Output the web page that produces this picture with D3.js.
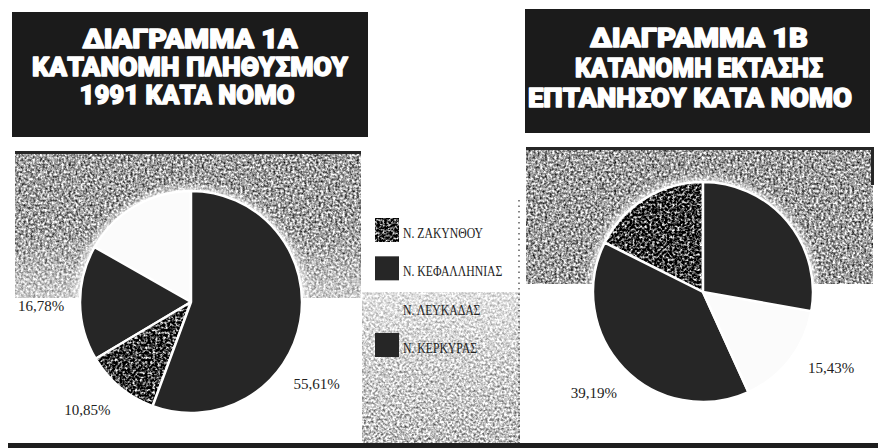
<!DOCTYPE html>
<html>
<head>
<meta charset="utf-8">
<script src="https://cdn.jsdelivr.net/npm/d3@7"></script>
<style>
  body { margin: 0; background: #fff; }
  svg { display: block; }
</style>
</head>
<body>
<div id="chart"></div>
<script>
// Data: legend order of the prefectures
const nomoi = ["Ν. ΖΑΚΥΝΘΟΥ", "Ν. ΚΕΦΑΛΛΗΝΙΑΣ", "Ν. ΛΕΥΚΑΔΑΣ", "Ν. ΚΕΡΚΥΡΑΣ"];
// percent of population 1991 (diagram 1A)
const plithysmos = [16.76, 16.78, 10.85, 55.61];
// percent of area (diagram 1B)
const ektasi = [17.60, 39.19, 15.43, 27.78];
// which slices carry a printed percentage
const shownA = [false, true, true, true];
const shownB = [false, true, true, false];
const titleA = ["ΔΙΑΓΡΑΜΜΑ 1Α", "ΚΑΤΑΝΟΜΗ ΠΛΗΘΥΣΜΟΥ", "1991 ΚΑΤΑ ΝΟΜΟ"];
const titleB = ["ΔΙΑΓΡΑΜΜΑ 1Β", "ΚΑΤΑΝΟΜΗ ΕΚΤΑΣΗΣ", "ΕΠΤΑΝΗΣΟΥ ΚΑΤΑ ΝΟΜΟ"];

// fills as printed (1A has two patterns swapped in print)
const legendFill = ["speck", "dark", "white", "dark"];
const fillsA = ["white", "dark", "speck", "dark"];
const fillsB = ["speck", "dark", "white", "dark"];
// small angular nudges (deg) of the printed labels
const labelShiftA = [0, -1, 4, 23];
const labelShiftB = [0, 1, -7, 0];

const W = 878, H = 448;
const DARK = "#262626";

const svg = d3.select("#chart")
  .append("svg")
  .attr("width", W)
  .attr("height", H);

const defs = svg.append("defs");

// grainy newsprint texture via turbulence
function grainFilter(id, freq, k, o, seed) {
  const f = defs.append("filter")
    .attr("id", id)
    .attr("x", 0).attr("y", 0).attr("width", 1).attr("height", 1)
    .attr("color-interpolation-filters", "sRGB");
  f.append("feTurbulence")
    .attr("type", "fractalNoise")
    .attr("baseFrequency", freq)
    .attr("numOctaves", 2)
    .attr("seed", seed);
  f.append("feColorMatrix")
    .attr("type", "matrix")
    .attr("values", `${k} 0 0 0 ${o}  ${k} 0 0 0 ${o}  ${k} 0 0 0 ${o}  0 0 0 0 1`);
  f.append("feGaussianBlur").attr("stdDeviation", 0.5);
}
grainFilter("grain", 0.42, 1.6, -0.18, 3);
grainFilter("grainLight", 0.42, 1.4, 0.05, 7);
grainFilter("speckF", 0.4, 2.6, -1.08, 11);

const halo = defs.append("filter").attr("id", "halo")
  .attr("x", -0.2).attr("y", -0.2).attr("width", 1.4).attr("height", 1.4);
halo.append("feGaussianBlur").attr("stdDeviation", 4);

const pat = defs.append("pattern")
  .attr("id", "speck")
  .attr("patternUnits", "userSpaceOnUse")
  .attr("width", W).attr("height", H);
pat.append("rect").attr("width", W).attr("height", H).attr("filter", "url(#speckF)");

function fade(id, stops) {
  const g = defs.append("linearGradient").attr("id", id)
    .attr("x1", 0).attr("y1", 0).attr("x2", 0).attr("y2", 1);
  stops.forEach(s => g.append("stop").attr("offset", s[0])
    .attr("stop-color", "#fff").attr("stop-opacity", s[1]));
}
fade("fadeDown", [[0, 0], [0.55, 0.05], [1, 0.5]]);
fade("fadeUp", [[0, 0.55], [1, 0.0]]);

const fillOf = t => t === "speck" ? "url(#speck)" : (t === "white" ? "#fbfbfb" : DARK);

// ---- backgrounds ----
// left panel: textured top
svg.append("rect").attr("x", 15).attr("y", 152).attr("width", 346).attr("height", 146)
  .attr("filter", "url(#grain)");
svg.append("rect").attr("x", 15).attr("y", 152).attr("width", 346).attr("height", 146)
  .attr("fill", "url(#fadeDown)");
svg.append("rect").attr("x", 15).attr("y", 151).attr("width", 346).attr("height", 3).attr("fill", DARK);

// middle strip: textured bottom
svg.append("rect").attr("x", 362).attr("y", 292).attr("width", 158).attr("height", 152)
  .attr("filter", "url(#grainLight)");
svg.append("rect").attr("x", 362).attr("y", 292).attr("width", 158).attr("height", 152)
  .attr("fill", "url(#fadeUp)");

// right panel: textured top
svg.append("rect").attr("x", 526).attr("y", 148).attr("width", 347).attr("height", 136)
  .attr("filter", "url(#grain)");
svg.append("rect").attr("x", 526).attr("y", 147).attr("width", 347).attr("height", 3).attr("fill", DARK);
svg.append("rect").attr("x", 871).attr("y", 147).attr("width", 3).attr("height", 38).attr("fill", DARK);

// dotted separator
svg.append("line").attr("x1", 519).attr("x2", 519).attr("y1", 200).attr("y2", 443)
  .attr("stroke", "#333").attr("stroke-width", 1.2).attr("stroke-dasharray", "1.5 4");

// bottom rule
svg.append("rect").attr("x", 8).attr("y", 443).attr("width", W - 8).attr("height", 5).attr("fill", "#1e1e1e");

// ---- title boxes ----
function titleBox(x, y, w, h, lines, cx, baselines, widths) {
  svg.append("rect").attr("x", x).attr("y", y).attr("width", w).attr("height", h).attr("fill", "#1b1b1b");
  svg.selectAll(null)
    .data(lines)
    .enter()
    .append("text")
    .attr("x", (d, i) => cx[i])
    .attr("y", (d, i) => baselines[i])
    .attr("text-anchor", "middle")
    .attr("textLength", (d, i) => widths[i])
    .attr("lengthAdjust", "spacingAndGlyphs")
    .attr("fill", "#fff")
    .attr("stroke", "#fff")
    .attr("stroke-width", 1.3)
    .attr("stroke-linejoin", "round")
    .style("font-family", "Roboto, 'DejaVu Sans', sans-serif")
    .style("font-weight", 900)
    .style("font-size", "25px")
    .text(d => d);
}
titleBox(12, 12, 356, 125, titleA, [190, 190, 187], [48, 76, 104], [215, 316, 215]);
titleBox(525, 9, 345, 124, titleB, [699, 699, 690], [47, 77, 107], [218, 248, 324]);

// ---- pies ----
function drawPie(cx, cy, R, values, fills, shown, shift) {
  const g = svg.append("g").attr("transform", `translate(${cx},${cy})`);
  // soft pale halo of the print around the disc
  g.append("circle").attr("r", R + 4).attr("fill", "#fff").attr("opacity", 0.85).attr("filter", "url(#halo)");

  // drawn anticlockwise from 12 o'clock in legend order
  const pie = d3.pie().sort(null).startAngle(0).endAngle(-2 * Math.PI);
  const arcs = pie(values);
  const arc = d3.arc().innerRadius(0).outerRadius(R);

  g.selectAll(".slice")
    .data(arcs)
    .enter()
    .append("path")
    .attr("class", "slice")
    .attr("d", arc)
    .attr("fill", (d, i) => fillOf(fills[i]))
    .attr("stroke", "#fff")
    .attr("stroke-width", 2.5)
    .attr("stroke-linejoin", "round");

  const labelR = R + 39;
  const ang = d => (d.startAngle + d.endAngle) / 2 + shift[d.index] * Math.PI / 180;
  g.selectAll(".lbl")
    .data(arcs.filter((d, i) => shown[i]))
    .enter()
    .append("text")
    .attr("class", "lbl")
    .attr("x", d => Math.sin(ang(d)) * labelR)
    .attr("y", d => -Math.cos(ang(d)) * labelR + 5)
    .attr("text-anchor", "middle")
    .attr("fill", "#222")
    .style("font-family", "'Liberation Serif', 'DejaVu Serif', serif")
    .style("font-size", "15px")
    .text(d => d3.format(".2f")(d.data).replace(".", ",") + "%");
}
drawPie(191, 302, 111, plithysmos, fillsA, shownA, labelShiftA);
drawPie(703, 292, 110, ektasi, fillsB, shownB, labelShiftB);

// ---- legend ----
const ly = d3.scalePoint().domain(nomoi).range([230, 345]);
const leg = svg.append("g");
const item = leg.selectAll(".item")
  .data(nomoi)
  .enter()
  .append("g")
  .attr("class", "item")
  .attr("transform", d => `translate(375,${ly(d)})`);
item.append("rect")
  .attr("x", 0).attr("y", -12)
  .attr("width", 24).attr("height", 24)
  .attr("fill", (d, i) => legendFill[i] === "white" ? "none" : fillOf(legendFill[i]));
item.append("text")
  .attr("x", 28)
  .attr("y", 8)
  .attr("fill", "#222")
  .style("font-family", "'Liberation Serif', 'DejaVu Serif', serif")
  .style("font-size", "15px")
  .text(d => d)
  .each(function () {
    const w = this.getComputedTextLength();
    d3.select(this).attr("textLength", w * 0.78).attr("lengthAdjust", "spacingAndGlyphs");
  });
</script>
</body>
</html>
